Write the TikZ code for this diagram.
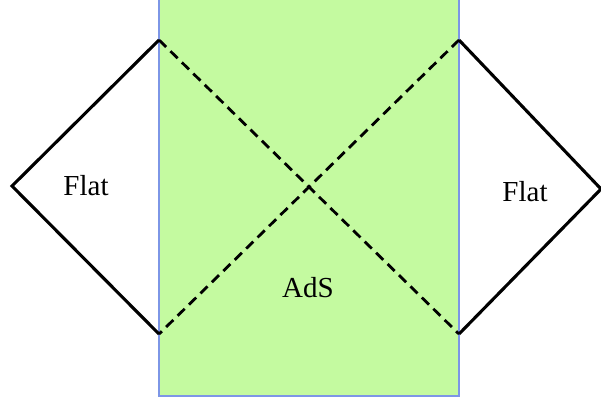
\documentclass[tikz,border=0pt]{standalone}
\usepackage{fontspec}
\setmainfont{Liberation Serif}
\usetikzlibrary{positioning,calc}
\definecolor{adsgreen}{RGB}{196,250,160}
\definecolor{adsblue}{RGB}{125,150,230}
\tikzset{
    region/.style={fill=adsgreen, draw=adsblue, line width=1.3pt},
    flatedge/.style={black, line width=3.1pt, line join=miter},
    horizon/.style={black, line width=2.8pt, dash pattern=on 10pt off 6pt},
    lbl/.style={font=\fontsize{29}{34}\selectfont, inner sep=0pt}
}
\begin{document}
\begin{tikzpicture}[x=1pt,y=-1pt]
    \useasboundingbox (0,0) rectangle (601,400);
    % AdS strip
    \draw[region] (159,-5) rectangle (459,396);
    \coordinate (LT) at (159,40);
    \coordinate (LB) at (159,334);
    \coordinate (RT) at (459,40);
    \coordinate (RB) at (459,334);
    \coordinate (LL) at (12,186);
    \coordinate (RR) at (601,189);

    % Flat regions
    \draw[flatedge] (LT) -- (LL) -- (LB);
    \draw[flatedge] (RT) -- (RR) -- (RB);

    % Horizons
    \draw[horizon] (LT) -- (RB);
    \draw[horizon] (RT) -- (LB);

    % Labels
    \node[lbl] (flatL) at (86,186) {Flat};
    \node[lbl] (flatR) at (525,192) {Flat};
    \node[lbl] (ads) at (308,288) {AdS};
\end{tikzpicture}
\end{document}
